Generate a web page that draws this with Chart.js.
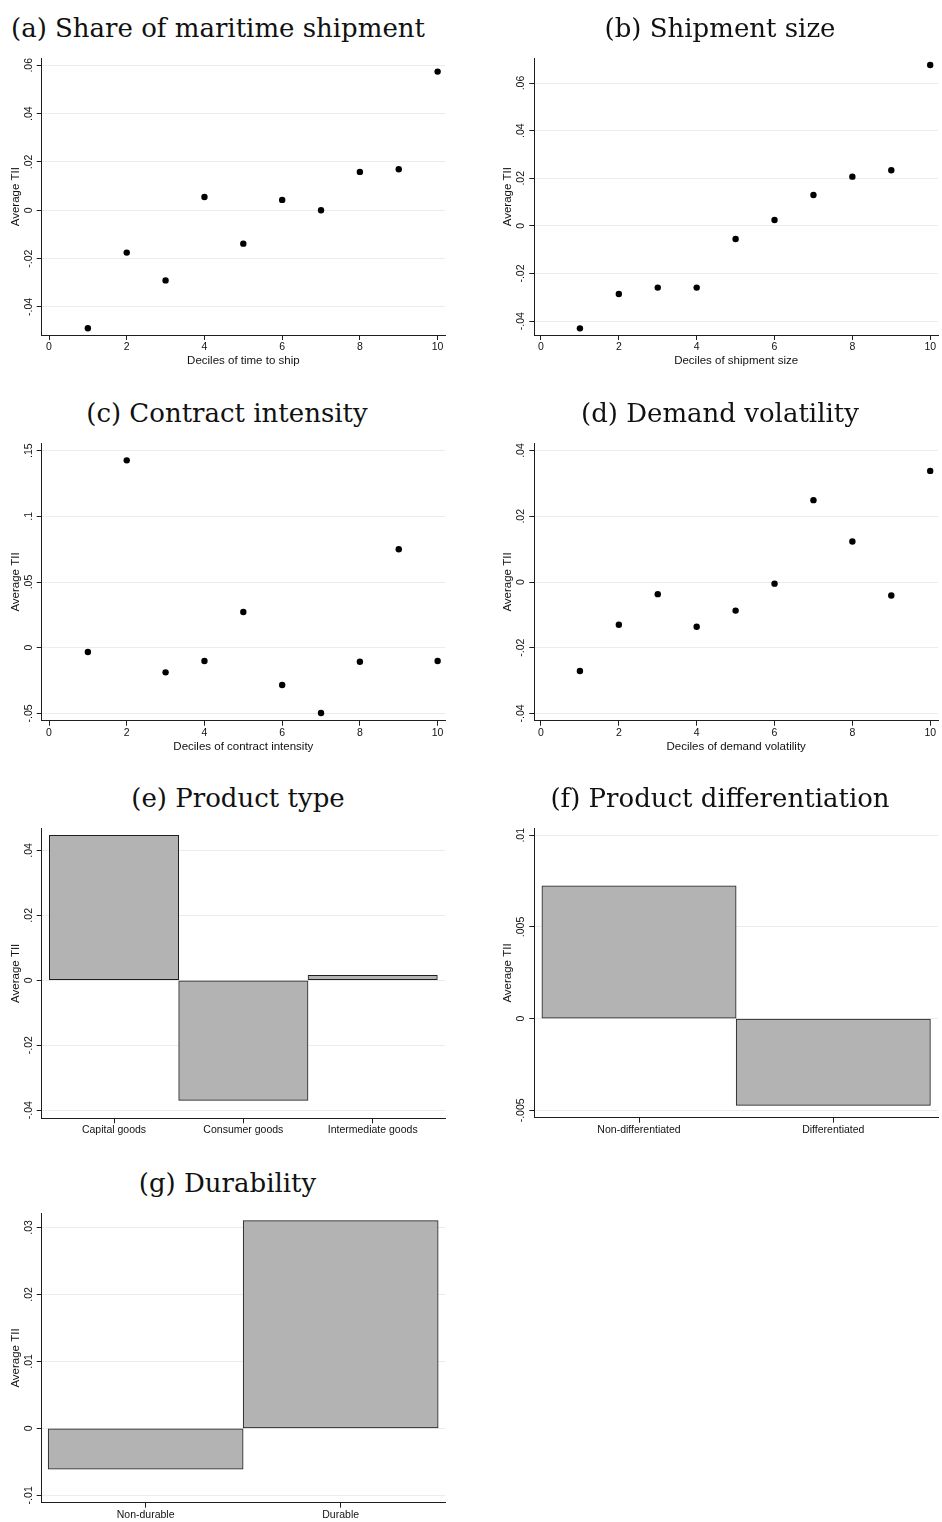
<!DOCTYPE html>
<html><head><meta charset="utf-8">
<script src="https://cdn.jsdelivr.net/npm/chart.js@4.4.1/dist/chart.umd.min.js"></script>
<style>
html,body{margin:0;padding:0;background:#fff;}
body{width:942px;height:1522px;position:relative;overflow:hidden;}
canvas{position:absolute;}
.ttl{position:absolute;width:600px;text-align:center;font-family:"DejaVu Serif",serif;font-size:26px;line-height:32px;color:#111;white-space:nowrap;}
</style></head><body>
<script>
// ---------------- DATA ----------------
const deciles = [1, 2, 3, 4, 5, 6, 7, 8, 9, 10];
const tiiTimeToShip        = [-0.0488, -0.0175, -0.0290, 0.0055, -0.0138, 0.0043, 0.0000, 0.0159, 0.0170, 0.0574];
const tiiShipmentSize      = [-0.0430, -0.0286, -0.0259, -0.0259, -0.0055, 0.0025, 0.0130, 0.0207, 0.0234, 0.0676];
const tiiContractIntensity = [-0.0033, 0.1426, -0.0188, -0.0102, 0.0272, -0.0284, -0.0497, -0.0107, 0.0749, -0.0102];
const tiiDemandVolatility  = [-0.0271, -0.0130, -0.0037, -0.0136, -0.0087, -0.0005, 0.0249, 0.0123, -0.0041, 0.0338];

const productTypes   = ['Capital goods', 'Consumer goods', 'Intermediate goods'];
const tiiProductType = [0.0446, -0.0370, 0.0015];
const diffTypes      = ['Non-differentiated', 'Differentiated'];
const tiiDiff        = [0.00724, -0.00473];
const durTypes       = ['Non-durable', 'Durable'];
const tiiDur         = [-0.00608, 0.0310];

const decileTicks      = [0, 2, 4, 6, 8, 10];
const decileTickLabels = ['0', '2', '4', '6', '8', '10'];

const yTicks04_06  = [-0.04, -0.02, 0, 0.02, 0.04, 0.06];
const yLabels04_06 = ['-.04', '-.02', '0', '.02', '.04', '.06'];
const yTicks05_15  = [-0.05, 0, 0.05, 0.10, 0.15];
const yLabels05_15 = ['-.05', '0', '.05', '.1', '.15'];
const yTicks04_04  = [-0.04, -0.02, 0, 0.02, 0.04];
const yLabels04_04 = ['-.04', '-.02', '0', '.02', '.04'];
const yTicksF      = [-0.005, 0, 0.005, 0.01];
const yLabelsF     = ['-.005', '0', '.005', '.01'];
const yTicksG      = [-0.01, 0, 0.01, 0.02, 0.03];
const yLabelsG     = ['-.01', '0', '.01', '.02', '.03'];

// ---------------- LAYOUT / STYLE ----------------
const SANS = '"Liberation Sans", Arial, sans-serif';
const TICK_SIZE = 10.5, TITLE_SIZE = 11.5;
const GRID = '#e6eeef', INK = '#111';
const rowTops = [0, 385, 770, 1155];
const cols = [
  {left: 0,   width: 465, padL: 0,    padR: 20},
  {left: 480, width: 462, padL: 12.6, padR: 4}
];

const panels = [
  {title: '(a) Share of maritime shipment', tx: 218, col: 0, row: 0, kind: 'scatter', cats: deciles, vals: tiiTimeToShip,
   xTitle: 'Deciles of time to ship', xTicks: decileTicks, xLabels: decileTickLabels, xMin: -0.188, xMax: 10.19,
   yMin: -0.0516, yMax: 0.0629, yTicks: yTicks04_06, yLabels: yLabels04_06, bottom: 335},
  {title: '(b) Shipment size', tx: 720, col: 1, row: 0, kind: 'scatter', cats: deciles, vals: tiiShipmentSize,
   xTitle: 'Deciles of shipment size', xTicks: decileTicks, xLabels: decileTickLabels, xMin: -0.172, xMax: 10.20,
   yMin: -0.0458, yMax: 0.0704, yTicks: yTicks04_06, yLabels: yLabels04_06, bottom: 335},
  {title: '(c) Contract intensity', tx: 227, col: 0, row: 1, kind: 'scatter', cats: deciles, vals: tiiContractIntensity,
   xTitle: 'Deciles of contract intensity', xTicks: decileTicks, xLabels: decileTickLabels, xMin: -0.188, xMax: 10.19,
   yMin: -0.0556, yMax: 0.1556, yTicks: yTicks05_15, yLabels: yLabels05_15, bottom: 335.7},
  {title: '(d) Demand volatility', tx: 720, col: 1, row: 1, kind: 'scatter', cats: deciles, vals: tiiDemandVolatility,
   xTitle: 'Deciles of demand volatility', xTicks: decileTicks, xLabels: decileTickLabels, xMin: -0.172, xMax: 10.20,
   yMin: -0.0422, yMax: 0.0422, yTicks: yTicks04_04, yLabels: yLabels04_04, bottom: 335.7},
  {title: '(e) Product type', tx: 238, col: 0, row: 2, kind: 'bar', cats: productTypes, vals: tiiProductType,
   xMin: 0.441, xMax: 3.559, yMin: -0.0425, yMax: 0.0468, yTicks: yTicks04_04, yLabels: yLabels04_04, bottom: 348.3},
  {title: '(f) Product differentiation', tx: 720, col: 1, row: 2, kind: 'bar', cats: diffTypes, vals: tiiDiff,
   xMin: 0.461, xMax: 2.539, yMin: -0.0054, yMax: 0.01038, yTicks: yTicksF, yLabels: yLabelsF, bottom: 347.7},
  {title: '(g) Durability', tx: 227.5, col: 0, row: 3, kind: 'bar', cats: durTypes, vals: tiiDur,
   xMin: 0.467, xMax: 2.535, yMin: -0.0111, yMax: 0.0321, yTicks: yTicksG, yLabels: yLabelsG, bottom: 347.7}
];

const mctx = document.createElement('canvas').getContext('2d');
function widestLabel(labels) {
  mctx.font = TICK_SIZE + 'px ' + SANS;
  return Math.max(...labels.map(l => mctx.measureText(l).width));
}

panels.forEach((p, k) => {
  const c = cols[p.col];
  const top = rowTops[p.row];
  const H = p.row === 3 ? 1522 - top : 385;
  const xAxisH = p.kind === 'scatter' ? 33 : 19;

  const t = document.createElement('div');
  t.className = 'ttl';
  t.textContent = p.title;
  t.style.left = (p.tx - 300) + 'px';
  t.style.top = (top + 27.5 - 16) + 'px';
  document.body.appendChild(t);

  const cv = document.createElement('canvas');
  cv.width = c.width; cv.height = H;
  cv.style.left = c.left + 'px'; cv.style.top = top + 'px';
  cv.style.width = c.width + 'px'; cv.style.height = H + 'px';
  document.body.appendChild(cv);

  const isBar = p.kind === 'bar';
  const xTickVals = isBar ? p.cats.map((_, i) => i + 1) : p.xTicks;
  const xTickLabels = isBar ? p.cats : p.xLabels;
  const points = isBar ? p.cats.map((_, i) => ({x: i + 1, y: p.vals[i]}))
                       : p.cats.map((x, i) => ({x: x, y: p.vals[i]}));

  const ds = isBar ? {
      data: points, backgroundColor: '#b3b3b3', borderColor: '#1e1e1e', borderWidth: 1,
      borderSkipped: false, categoryPercentage: 1, barPercentage: 1
    } : {
      data: points, pointRadius: 3.2, pointBackgroundColor: '#000', pointBorderWidth: 0, showLine: false
    };

  const yPad = 13 - 5 - widestLabel(p.yLabels) / 2;

  new Chart(cv, {
    type: isBar ? 'bar' : 'scatter',
    data: {datasets: [ds]},
    options: {
      responsive: false, animation: false, devicePixelRatio: 1,
      layout: {padding: {top: 58.3, left: c.padL, right: c.padR, bottom: H - xAxisH - p.bottom}},
      plugins: {legend: {display: false}, tooltip: {enabled: false}},
      scales: {
        x: {
          type: 'linear', min: p.xMin, max: p.xMax, bounds: 'data', offset: false,
          afterBuildTicks: s => { s.ticks = xTickVals.map(v => ({value: v})); },
          afterFit: s => { s.height = xAxisH; },
          ticks: {autoSkip: false, maxRotation: 0, minRotation: 0, padding: 1, color: INK,
                  font: {family: SANS, size: TICK_SIZE}, callback: (v, i) => xTickLabels[i]},
          grid: {offset: false, drawOnChartArea: false, drawTicks: true, tickLength: 5, tickColor: '#1e1e1e', lineWidth: 1},
          border: {display: true, color: '#1e1e1e', width: 1},
          title: {display: !isBar, text: p.xTitle || '', color: INK,
                  font: {family: SANS, size: TITLE_SIZE}, padding: {top: 0, bottom: 0.4}}
        },
        y: {
          type: 'linear', min: p.yMin, max: p.yMax, bounds: 'data',
          afterBuildTicks: s => { s.ticks = p.yTicks.map(v => ({value: v})); },
          afterFit: s => { s.width = 41.7; },
          ticks: {minRotation: 90, maxRotation: 90, crossAlign: 'center', padding: yPad, color: INK,
                  font: {family: SANS, size: TICK_SIZE}, callback: (v, i) => p.yLabels[i]},
          grid: {offset: false, color: GRID, lineWidth: 1, drawTicks: true, tickLength: 5, tickColor: '#1e1e1e'},
          border: {display: true, color: '#1e1e1e', width: 1},
          title: {display: true, text: 'Average TII', color: INK,
                  font: {family: SANS, size: TITLE_SIZE}, padding: {top: 8.6, bottom: 0}}
        }
      }
    }
  });
});
</script>
</body></html>
